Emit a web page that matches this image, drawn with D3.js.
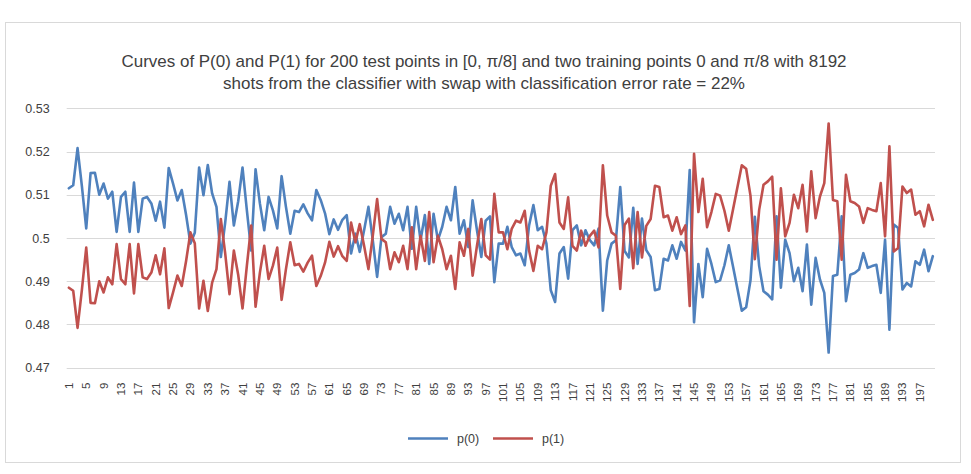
<!DOCTYPE html>
<html>
<head>
<meta charset="utf-8">
<script src="https://cdn.jsdelivr.net/npm/d3@7"></script>
<style>
  html, body { margin: 0; padding: 0; background: #ffffff; }
  svg { display: block; }
  text { font-family: "Liberation Sans Narrow", "Liberation Sans", Arial, sans-serif; fill: #404040; }
</style>
</head>
<body>
<svg id="chart" width="971" height="474"></svg>
<script>
// ---------- DATA ----------
const titleLines = [
  "Curves of P(0) and P(1) for 200 test points in [0, \u03c0/8] and two training points 0 and \u03c0/8 with 8192",
  "shots from the classifier with swap with classification error rate = 22%"
];
const seriesNames = ["p(0)", "p(1)"];
const categories = Array.from({length: 200}, (_, i) => i + 1);
const xTickLabels = [1,5,9,13,17,21,25,29,33,37,41,45,49,53,57,61,65,69,73,77,81,85,89,93,97,101,105,109,113,117,121,125,129,133,137,141,145,149,153,157,161,165,169,173,177,181,185,189,193,197];
const yTicks = [0.47, 0.48, 0.49, 0.5, 0.51, 0.52, 0.53];
const yTickLabels = ["0.47", "0.48", "0.49", "0.5", "0.51", "0.52", "0.53"];

const p0 = [
0.5115,0.5122,0.5208,0.5120,0.5022,0.5150,0.5151,0.5100,0.5126,0.5091,
0.5107,0.5014,0.5095,0.5107,0.5014,0.5128,0.5014,0.5091,0.5095,0.5080,
0.5040,0.5084,0.5024,0.5162,0.5126,0.5087,0.5111,0.5053,0.4987,0.5012,
0.5163,0.5099,0.5169,0.5103,0.5072,0.4956,0.5035,0.5130,0.5029,0.5085,
0.5163,0.5064,0.4971,0.5159,0.5080,0.5018,0.5095,0.5064,0.5022,0.5143,
0.5072,0.5010,0.5063,0.5060,0.5078,0.5057,0.5041,0.5111,0.5088,0.5057,
0.5009,0.5043,0.5019,0.5042,0.5053,0.4964,0.5010,0.4968,0.5018,0.5072,
0.4995,0.4910,0.5002,0.5010,0.5072,0.5033,0.5056,0.5018,0.5072,0.4975,
0.5072,0.4995,0.5053,0.4940,0.5056,0.4995,0.5026,0.5072,0.5041,0.5118,
0.5010,0.5041,0.4979,0.5087,0.5018,0.4956,0.5040,0.5050,0.4898,0.4987,
0.4987,0.5026,0.4979,0.4960,0.4964,0.4937,0.5029,0.5076,0.5018,0.5026,
0.4987,0.4879,0.4852,0.4964,0.4979,0.4906,0.5018,0.5029,0.4983,0.5018,
0.4995,0.4983,0.5022,0.4832,0.4948,0.4987,0.4995,0.5118,0.4970,0.4955,
0.5070,0.4940,0.5045,0.4972,0.4956,0.4879,0.4882,0.4952,0.4948,0.4983,
0.4952,0.4991,0.4971,0.5157,0.4805,0.4940,0.4863,0.4975,0.4940,0.4898,
0.4902,0.4937,0.4983,0.4933,0.4882,0.4832,0.4840,0.4902,0.5049,0.4935,
0.4877,0.4869,0.4858,0.5050,0.4885,0.4996,0.4965,0.4900,0.4931,0.4877,
0.4985,0.4846,0.4954,0.4904,0.4873,0.4735,0.4912,0.4915,0.5050,0.4854,
0.4915,0.4919,0.4927,0.4965,0.4931,0.4935,0.4938,0.4873,0.4996,0.4788,
0.5031,0.5023,0.4881,0.4896,0.4888,0.4946,0.4938,0.4973,0.4923,0.4958
];
const p1 = [
0.4885,0.4878,0.4792,0.4880,0.4978,0.4850,0.4849,0.4900,0.4874,0.4909,
0.4893,0.4986,0.4905,0.4893,0.4986,0.4872,0.4986,0.4909,0.4905,0.4920,
0.4960,0.4916,0.4976,0.4838,0.4874,0.4913,0.4889,0.4947,0.5013,0.4988,
0.4837,0.4901,0.4831,0.4897,0.4928,0.5044,0.4965,0.4870,0.4971,0.4915,
0.4837,0.4936,0.5029,0.4841,0.4920,0.4982,0.4905,0.4936,0.4978,0.4857,
0.4928,0.4990,0.4937,0.4940,0.4922,0.4943,0.4959,0.4889,0.4912,0.4943,
0.4991,0.4957,0.4981,0.4958,0.4947,0.5036,0.4990,0.5032,0.4982,0.4928,
0.5005,0.5090,0.4998,0.4990,0.4928,0.4967,0.4944,0.4982,0.4928,0.5025,
0.4928,0.5005,0.4947,0.5060,0.4944,0.5005,0.4974,0.4928,0.4959,0.4882,
0.4990,0.4959,0.5021,0.4913,0.4982,0.5044,0.4960,0.4950,0.5102,0.5013,
0.5013,0.4974,0.5021,0.5040,0.5036,0.5063,0.4971,0.4924,0.4982,0.4974,
0.5013,0.5121,0.5148,0.5036,0.5021,0.5094,0.4982,0.4971,0.5017,0.4982,
0.5005,0.5017,0.4978,0.5168,0.5052,0.5013,0.5005,0.4882,0.5030,0.5045,
0.4930,0.5060,0.4955,0.5028,0.5044,0.5121,0.5118,0.5048,0.5052,0.5017,
0.5048,0.5009,0.5029,0.4843,0.5195,0.5060,0.5137,0.5025,0.5060,0.5102,
0.5098,0.5063,0.5017,0.5067,0.5118,0.5168,0.5160,0.5098,0.4951,0.5065,
0.5123,0.5131,0.5142,0.4950,0.5115,0.5004,0.5035,0.5100,0.5069,0.5123,
0.5015,0.5154,0.5046,0.5096,0.5127,0.5265,0.5088,0.5085,0.4950,0.5146,
0.5085,0.5081,0.5073,0.5035,0.5069,0.5065,0.5062,0.5127,0.5004,0.5212,
0.4969,0.4977,0.5119,0.5104,0.5112,0.5054,0.5062,0.5027,0.5077,0.5042
];
const seriesColors = ["#4F81BD", "#C0504D"];

// ---------- CHART ----------
const svg = d3.select("#chart");
const plot = {left: 66.7, right: 935, top: 108.3, bottom: 367.7};

// outer frame
svg.append("rect")
  .attr("x", 5.5).attr("y", 22.5).attr("width", 955).attr("height", 440)
  .attr("fill", "#ffffff").attr("stroke", "#d9d9d9").attr("stroke-width", 1);

const x = d3.scaleBand().domain(categories).range([plot.left, plot.right]).padding(0);
const y = d3.scaleLinear().domain([0.47, 0.53]).range([plot.bottom, plot.top]);

// gridlines
svg.append("g").selectAll("line").data(yTicks).join("line")
  .attr("x1", plot.left).attr("x2", plot.right)
  .attr("y1", d => Math.round(y(d)) + 0.5).attr("y2", d => Math.round(y(d)) + 0.5)
  .attr("stroke", "#d9d9d9").attr("stroke-width", 1);

// y axis labels
const yAxis = d3.axisLeft(y).tickValues(yTicks)
  .tickFormat((d, i) => yTickLabels[i]).tickSize(0).tickPadding(0);
const yg = svg.append("g").attr("transform", `translate(${plot.left - 17},0)`).call(yAxis);
yg.select(".domain").remove();
yg.selectAll("text").attr("font-size", 12.5).attr("fill", "#404040")
  .style("font-family", '"Liberation Sans Narrow", "Liberation Sans", sans-serif');

// x axis labels (rotated)
const xAxis = d3.axisBottom(x).tickValues(xTickLabels).tickSize(0).tickPadding(0);
const xg = svg.append("g").attr("transform", `translate(0,${plot.bottom + 15})`).call(xAxis);
xg.select(".domain").remove();
xg.selectAll("text")
  .attr("font-size", 11.5).attr("fill", "#404040")
  .style("font-family", '"Liberation Sans Narrow", "Liberation Sans", sans-serif')
  .attr("text-anchor", "end")
  .attr("dy", "0.35em")
  .attr("y", 0).attr("x", 0)
  .attr("transform", "rotate(-90)");

// lines
const cx = d => x(d) + x.bandwidth() / 2;
[p0, p1].forEach((vals, k) => {
  const line = d3.line().x((d, i) => cx(categories[i])).y(d => y(d));
  svg.append("path").datum(vals)
    .attr("d", line)
    .attr("fill", "none")
    .attr("stroke", seriesColors[k])
    .attr("stroke-width", 2.6)
    .attr("stroke-linejoin", "round")
    .attr("stroke-linecap", "round");
});

// title
const tg = svg.append("g");
const tWidths = [725, 522];
titleLines.forEach((t, i) => {
  tg.append("text")
    .attr("x", 484).attr("y", 67 + i * 21.5)
    .attr("text-anchor", "middle")
    .attr("font-size", 17)
    .attr("fill", "#262626")
    .attr("textLength", tWidths[i])
    .attr("lengthAdjust", "spacingAndGlyphs")
    .text(t);
});

// legend
const legendX = [408, 493];
seriesNames.forEach((name, k) => {
  svg.append("line")
    .attr("x1", legendX[k]).attr("x2", legendX[k] + 40)
    .attr("y1", 438.5).attr("y2", 438.5)
    .attr("stroke", seriesColors[k]).attr("stroke-width", 2.6);
  svg.append("text")
    .attr("x", legendX[k] + 49).attr("y", 443)
    .attr("font-size", 12.5).attr("fill", "#404040")
    .text(name);
});
</script>
</body>
</html>
